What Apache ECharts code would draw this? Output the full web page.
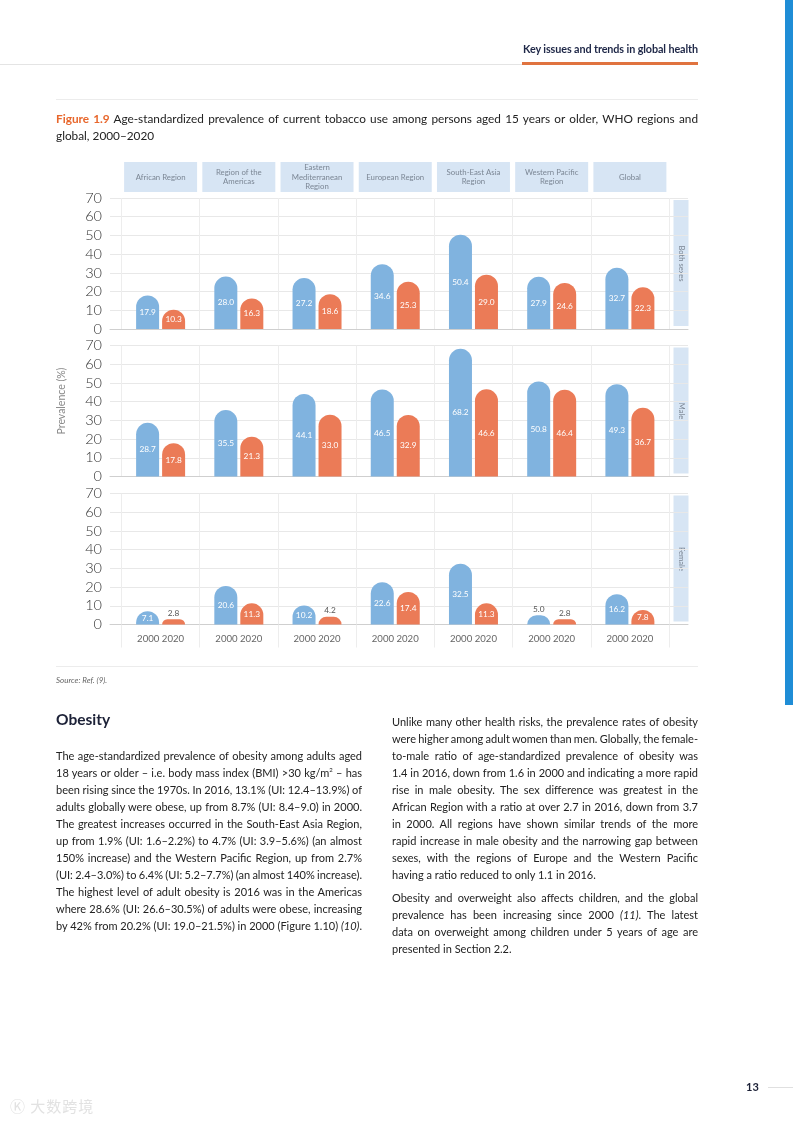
<!DOCTYPE html>
<html><head><meta charset="utf-8">
<script src="https://cdn.jsdelivr.net/npm/echarts/dist/echarts.min.js"></script>
<style>
html,body{margin:0;padding:0}
body{width:793px;height:1122px;position:relative;background:#fff;font-family:Lato,'Noto Sans',sans-serif;overflow:hidden;color:#222}
#chart{position:absolute;left:0;top:0;width:793px;height:1122px}
.a{position:absolute}
.rule{position:absolute;height:1px;background:#e6e6e6}
.col{position:absolute;width:306px;font-size:11px;line-height:17px;color:#222;word-spacing:-1.2px}
.col div{text-align:justify;text-align-last:justify;white-space:nowrap}
.col div.last{text-align-last:left;word-spacing:0}
.cap{position:absolute;left:56px;top:110px;width:642px;font-size:11.8px;line-height:17px;color:#222}
.cap div{text-align:justify;text-align-last:justify}
.cap div.last{text-align-last:left}
</style></head>
<body>
<div id="chart"></div>

<div class="rule" style="left:0;top:64px;width:522px;background:#e4e4e4"></div>
<div class="a" style="left:522px;top:62px;width:176px;height:3px;background:#e0733f"></div>
<div class="a" style="right:95px;top:42px;font-size:10.8px;font-weight:700;color:#1e2747;letter-spacing:-0.1px">Key issues and trends in global health</div>
<div class="rule" style="left:56px;top:99px;width:642px;background:#ececec"></div>
<div class="a" style="left:785px;top:0;width:8px;height:705px;background:#1f8dd6"></div>

<div class="cap">
<div><b style="color:#e8672c">Figure 1.9</b> Age-standardized prevalence of current tobacco use among persons aged 15 years or older, WHO regions and</div>
<div class="last">global, 2000–2020</div>
</div>

<div class="rule" style="left:56px;top:666px;width:642px;background:#ececec"></div>
<div class="a" style="left:56px;top:675px;font-size:8px;font-style:italic;color:#666">Source: Ref. (9).</div>

<div class="a" style="left:56px;top:710px;font-size:15.5px;font-weight:700;color:#1c2137">Obesity</div>

<div class="col" style="left:56px;top:746.5px">
<div>The age-standardized prevalence of obesity among adults aged</div>
<div>18 years or older – i.e. body mass index (BMI) &gt;30 kg/m<sup style="font-size:6px;line-height:0">2</sup> – has</div>
<div>been rising since the 1970s. In 2016, 13.1% (UI: 12.4–13.9%) of</div>
<div>adults globally were obese, up from 8.7% (UI: 8.4–9.0) in 2000.</div>
<div>The greatest increases occurred in the South-East Asia Region,</div>
<div>up from 1.9% (UI: 1.6–2.2%) to 4.7% (UI: 3.9–5.6%) (an almost</div>
<div>150% increase) and the Western Pacific Region, up from 2.7%</div>
<div>(UI: 2.4–3.0%) to 6.4% (UI: 5.2–7.7%) (an almost 140% increase).</div>
<div>The highest level of adult obesity is 2016 was in the Americas</div>
<div>where 28.6% (UI: 26.6–30.5%) of adults were obese, increasing</div>
<div>by 42% from 20.2% (UI: 19.0–21.5%) in 2000 (Figure 1.10) <i>(10)</i>.</div>
</div>

<div class="col" style="left:392px;top:712.5px">
<div>Unlike many other health risks, the prevalence rates of obesity</div>
<div>were higher among adult women than men. Globally, the female-</div>
<div>to-male ratio of age-standardized prevalence of obesity was</div>
<div>1.4 in 2016, down from 1.6 in 2000 and indicating a more rapid</div>
<div>rise in male obesity. The sex difference was greatest in the</div>
<div>African Region with a ratio at over 2.7 in 2016, down from 3.7</div>
<div>in 2000. All regions have shown similar trends of the more</div>
<div>rapid increase in male obesity and the narrowing gap between</div>
<div>sexes, with the regions of Europe and the Western Pacific</div>
<div class="last">having a ratio reduced to only 1.1 in 2016.</div>
</div>
<div class="col" style="left:392px;top:888.5px">
<div>Obesity and overweight also affects children, and the global</div>
<div>prevalence has been increasing since 2000 <i>(11)</i>. The latest</div>
<div>data on overweight among children under 5 years of age are</div>
<div class="last">presented in Section 2.2.</div>
</div>

<div class="a" style="left:746px;top:1080px;font-size:11px;font-weight:700;color:#1c2137">13</div>
<div class="rule" style="left:768px;top:1087px;width:25px;background:#e0e0e0"></div>
<div class="a" style="left:10px;top:1095px;font-size:15px;color:#e2e2e2;font-family:'Noto Sans CJK SC';letter-spacing:1px">Ⓚ 大数跨境</div>

<script>
// ---- data ----
const regions = ['African Region', 'Region of the\nAmericas', 'Eastern\nMediterranean\nRegion', 'European Region', 'South-East Asia\nRegion', 'Western Pacific\nRegion', 'Global'];
const years = ['2000', '2020'];
const panelNames = ['Both sexes', 'Male', 'Female'];
const both2000 = [17.9, 28.0, 27.2, 34.6, 50.4, 27.9, 32.7];
const both2020 = [10.3, 16.3, 18.6, 25.3, 29.0, 24.6, 22.3];
const male2000 = [28.7, 35.5, 44.1, 46.5, 68.2, 50.8, 49.3];
const male2020 = [17.8, 21.3, 33.0, 32.9, 46.6, 46.4, 36.7];
const female2000 = [7.1, 20.6, 10.2, 22.6, 32.5, 5.0, 16.2];
const female2020 = [2.8, 11.3, 4.2, 17.4, 11.3, 2.8, 7.8];
const yMin = 0, yMax = 70, yStep = 10;
const yTitle = 'Prevalence (%)';

// ---- layout ----
const panelData = [[both2000, both2020], [male2000, male2020], [female2000, female2020]];
const tops = [198, 345.5, 493.5];
const H = 131;
const dataLeft = 121.5, dataWidth = 547.5;
const decoLeft = 110, decoWidth = 578;
const colors = ['#80b3df', '#eb7b57'];

const grid = [{left: dataLeft, width: dataWidth, top: 162, height: 30}];
const xAxis = [{type: 'category', gridIndex: 0, data: regions, show: false}];
const yAxis = [{type: 'value', gridIndex: 0, min: 0, max: 1, show: false}];
const series = [{
  type: 'bar', xAxisIndex: 0, yAxisIndex: 0, silent: true,
  data: regions.map(() => 1), barWidth: 73,
  itemStyle: {color: '#d7e5f4'},
  label: {show: true, position: 'inside', formatter: '{b}', color: '#7b8694', fontSize: 7.8, lineHeight: 9.5, fontFamily: 'Lato'}
}];
const graphic = [];

panelNames.forEach((pn, p) => {
  const gDeco = grid.length;
  grid.push({left: decoLeft, width: decoWidth, top: tops[p], height: H});
  grid.push({left: dataLeft, width: dataWidth, top: tops[p], height: H});
  const gData = gDeco + 1;
  xAxis.push({type: 'value', gridIndex: gDeco, min: 0, max: 1,
    axisLabel: {show: false}, axisTick: {show: false}, splitLine: {show: false},
    axisLine: {show: true, lineStyle: {color: '#cfcfcf', width: 1}}});
  xAxis.push({type: 'category', gridIndex: gData, data: regions,
    axisLine: {show: false},
    axisTick: {show: p === 2, length: 23, lineStyle: {color: '#ededed'}},
    splitLine: {show: true, lineStyle: {color: '#ededed'}},
    axisLabel: {show: p === 2, formatter: () => years.join(' '), color: '#666', fontSize: 9.6, margin: 9, fontFamily: 'Lato'}});
  yAxis.push({type: 'value', gridIndex: gDeco, min: yMin, max: yMax, interval: yStep,
    axisLine: {show: false}, axisTick: {show: false},
    splitLine: {show: true, lineStyle: {color: '#e8e8e8'}},
    axisLabel: {color: '#333', fontSize: 14.5, fontFamily: 'Lato', fontWeight: 300, margin: 8}});
  yAxis.push({type: 'value', gridIndex: gData, min: yMin, max: yMax, interval: yStep, show: false});
  panelData[p].forEach((arr, k) => {
    series.push({
      type: 'bar', name: years[k], xAxisIndex: 2 * p + 2, yAxisIndex: 2 * p + 2,
      barWidth: 23, barGap: '13%',
      itemStyle: {color: colors[k], borderRadius: [11.5, 11.5, 0, 0]},
      label: {show: true, position: 'inside', color: '#fff', fontSize: 8.3, fontFamily: 'Lato',
        formatter: (d) => d.value.toFixed(1)},
      data: arr.map(v => v < 6 ? {value: v, label: {position: 'top', color: '#555', distance: 2}} : v)
    });
  });
  graphic.push({type: 'rect', shape: {x: 673.5, y: tops[p] + 2, width: 15, height: H - 5}, style: {fill: '#d7e5f4'}, silent: true});
  graphic.push({type: 'text', x: 681, y: tops[p] + H / 2, rotation: -Math.PI / 2,
    style: {text: pn, fill: '#7b8694', fontSize: 7.6, fontFamily: 'Lato', align: 'center', verticalAlign: 'middle'}});
});
graphic.push({type: 'text', x: 62, y: 401, rotation: Math.PI / 2,
  style: {text: yTitle, fill: '#888', fontSize: 10.5, fontFamily: 'Lato', align: 'center', verticalAlign: 'middle'}});

const chart = echarts.init(document.getElementById('chart'), null, {renderer: 'canvas'});
chart.setOption({animation: false, backgroundColor: 'transparent', grid, xAxis, yAxis, series, graphic, tooltip: {show: false}});
</script>
</body></html>
